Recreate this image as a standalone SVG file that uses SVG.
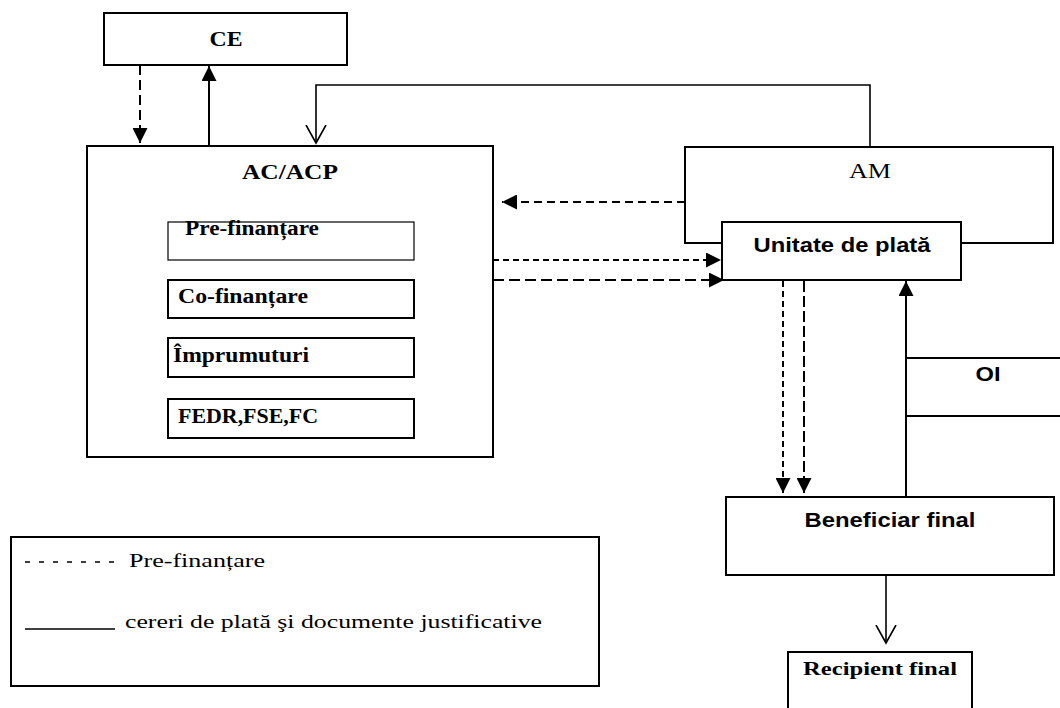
<svg xmlns="http://www.w3.org/2000/svg" width="1060" height="708" viewBox="0 0 1060 708">
<style>
.box{fill:#fff;stroke:#000;stroke-width:2}
.thin{fill:#fff;stroke:#000;stroke-width:1.2}
.ln{fill:none;stroke:#000;stroke-width:2}
.serifb{font-family:"Liberation Serif","Times New Roman",serif;font-weight:bold;fill:#000}
.serif{font-family:"Liberation Serif","Times New Roman",serif;fill:#000}
.sansb{font-family:"Liberation Sans",Arial,sans-serif;font-weight:bold;fill:#000}
</style>
<defs>
<marker id="tri" markerUnits="userSpaceOnUse" markerWidth="15" markerHeight="15" viewBox="0 0 15 15" refX="15" refY="7.5" orient="auto">
<path d="M0,0 L15,7.5 L0,15 z" fill="#000"/>
</marker>
<marker id="vee" markerUnits="userSpaceOnUse" markerWidth="20" markerHeight="22" viewBox="0 0 20 22" refX="18" refY="11" orient="auto">
<path d="M0,1 L18,11 L0,21" fill="none" stroke="#000" stroke-width="1.6"/>
</marker>
</defs>
<rect width="1060" height="708" fill="#fff"/>

<g id="connectors">
<line class="ln" x1="140" y1="65" x2="140" y2="143" stroke-dasharray="10,5" marker-end="url(#tri)"/>
<line class="ln" x1="209" y1="146" x2="209" y2="66" marker-end="url(#tri)"/>
<polyline fill="none" stroke="#000" stroke-width="1.6" points="870,147 870,85 316,85 316,143" marker-end="url(#vee)"/>
<line class="ln" x1="685" y1="202" x2="502" y2="202" stroke-dasharray="8,5" marker-end="url(#tri)"/>
<line class="ln" x1="493" y1="260" x2="721" y2="260" stroke-dasharray="6,4" marker-end="url(#tri)"/>
<line class="ln" x1="493" y1="280" x2="724" y2="280" stroke-dasharray="11,5" marker-end="url(#tri)"/>
<line class="ln" x1="783" y1="281" x2="783" y2="493" stroke-dasharray="6,4" marker-end="url(#tri)"/>
<line class="ln" x1="804" y1="281" x2="804" y2="493" stroke-dasharray="11,4" marker-end="url(#tri)"/>
<line class="ln" x1="906" y1="497" x2="906" y2="281" marker-end="url(#tri)"/>
<line fill="none" stroke="#000" stroke-width="1.6" x1="886" y1="575" x2="886" y2="643" marker-end="url(#vee)"/>
</g>

<g id="CE">
<rect class="box" x="104" y="13" width="243" height="52"/>
<text class="serifb" x="226" y="46" font-size="21" text-anchor="middle" textLength="33" lengthAdjust="spacingAndGlyphs">CE</text>
</g>

<g id="ACACP">
<rect class="box" x="87" y="146" width="406" height="311"/>
<text class="serifb" x="290" y="179" font-size="21" text-anchor="middle" textLength="96" lengthAdjust="spacingAndGlyphs">AC/ACP</text>
</g>

<g id="prefinantare">
<rect class="thin" x="168" y="222" width="246" height="38"/>
<text class="serifb" x="185" y="235" font-size="20" textLength="134" lengthAdjust="spacingAndGlyphs">Pre-finanțare</text>
</g>
<g id="cofinantare">
<rect class="box" x="168" y="280" width="246" height="38"/>
<text class="serifb" x="178" y="303" font-size="20" textLength="130" lengthAdjust="spacingAndGlyphs">Co-finanțare</text>
</g>
<g id="imprumuturi">
<rect class="box" x="168" y="338" width="246" height="39"/>
<text class="serifb" x="173" y="362" font-size="20" textLength="136" lengthAdjust="spacingAndGlyphs">Împrumuturi</text>
</g>
<g id="fonduri">
<rect class="box" x="168" y="399" width="246" height="39"/>
<text class="serifb" x="178" y="423" font-size="20" textLength="140" lengthAdjust="spacingAndGlyphs">FEDR,FSE,FC</text>
</g>

<g id="AM">
<rect class="box" x="685" y="147" width="368" height="96"/>
<text class="serif" x="870" y="178" font-size="21" text-anchor="middle" textLength="42" lengthAdjust="spacingAndGlyphs">AM</text>
</g>

<g id="unitate">
<rect class="box" x="722" y="222" width="239" height="58"/>
<text class="sansb" x="842" y="252" font-size="21" text-anchor="middle" textLength="177" lengthAdjust="spacingAndGlyphs">Unitate de plată</text>
</g>

<g id="OI">
<line class="ln" x1="906" y1="358" x2="1060" y2="358"/>
<line class="ln" x1="906" y1="416" x2="1060" y2="416"/>
<text class="sansb" x="988" y="381" font-size="20" text-anchor="middle" textLength="25" lengthAdjust="spacingAndGlyphs">OI</text>
</g>

<g id="beneficiar">
<rect class="box" x="726" y="497" width="328" height="78"/>
<text class="sansb" x="890" y="527" font-size="21" text-anchor="middle" textLength="171" lengthAdjust="spacingAndGlyphs">Beneficiar final</text>
</g>

<g id="recipient">
<rect class="box" x="788" y="652" width="184" height="70"/>
<text class="serifb" x="880" y="675" font-size="19" text-anchor="middle" textLength="154" lengthAdjust="spacingAndGlyphs">Recipient final</text>
</g>

<g id="legend">
<rect class="box" x="11" y="537" width="588" height="149"/>
<line x1="25" y1="562" x2="117" y2="562" stroke="#000" stroke-width="1.3" stroke-dasharray="5,9"/>
<text class="serif" x="129" y="567" font-size="19" textLength="136" lengthAdjust="spacingAndGlyphs">Pre-finanțare</text>
<line x1="25" y1="629" x2="115" y2="629" stroke="#000" stroke-width="1.5"/>
<text class="serif" x="125" y="628" font-size="19" textLength="417" lengthAdjust="spacingAndGlyphs">cereri de plată şi documente justificative</text>
</g>
</svg>
